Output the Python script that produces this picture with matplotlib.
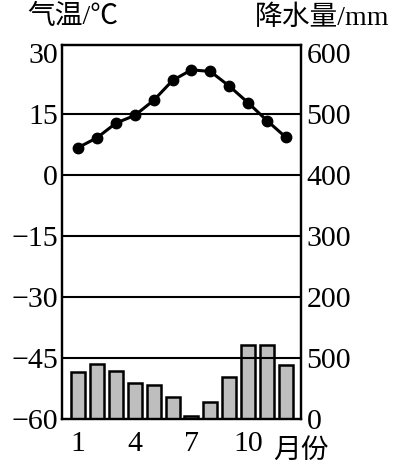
import matplotlib
matplotlib.use("Agg")
import matplotlib.pyplot as plt

plt.rcParams['font.family'] = ['Liberation Serif', 'Noto Sans CJK SC', 'DejaVu Sans']

months = list(range(1, 13))
temperature = [6.7, 9.1, 12.7, 14.6, 18.3, 23.2, 25.8, 25.4, 21.8, 17.7, 13.3, 9.2]
precipitation = [76, 90, 78, 58, 56, 36, 5, 27, 68, 121, 121, 88]
temp_ticks = [-60, -45, -30, -15, 0, 15, 30]
temp_labels = ['−60', '−45', '−30', '−15', '0', '15', '30']
prec_ticks = [0, 100, 200, 300, 400, 500, 600]
prec_labels = ['0', '500', '200', '300', '400', '500', '600']
month_ticks = [1, 4, 7, 10]
month_labels = ['1', '4', '7', '10']

fig = plt.figure(figsize=(3.93, 4.69), dpi=100)
ax = fig.add_axes([0.158, 0.107, 0.608, 0.797])
t_lo, t_hi = -60, 31.9
ax.set_ylim(t_lo, t_hi)
ax.set_xlim(0.15, 12.8)

for t in temp_ticks[1:-1]:
    ax.axhline(t, color='black', lw=1.5, zorder=0)

ax2 = ax.twinx()
ax2.set_ylim((t_lo + 60) * 600 / 90, (t_hi + 60) * 600 / 90)
ax2.bar(months, precipitation, width=0.74, color='#bebebe', edgecolor='black', linewidth=1.8, zorder=2)

ax.plot(months, temperature, color='black', lw=2.2, marker='o', markersize=7.5, zorder=5)
ax.set_zorder(ax2.get_zorder() + 1)
ax.patch.set_visible(False)

for a in (ax, ax2):
    for s in a.spines.values():
        s.set_linewidth(1.6)
    a.tick_params(length=0)

ax.set_yticks(temp_ticks)
ax.set_yticklabels(temp_labels, fontsize=21.5)
ax.tick_params(axis='y', pad=3)
ax2.set_yticks(prec_ticks)
ax2.set_yticklabels(prec_labels, fontsize=21.5)
ax2.tick_params(axis='y', pad=4)
ax.set_xticks(month_ticks)
ax.set_xticklabels(month_labels, fontsize=21.5)
ax.tick_params(axis='x', pad=9)

fig.text(0.07, 0.962, '气温/℃', fontsize=20, ha='left', va='center')
fig.text(0.99, 0.962, '降水量/mm', fontsize=20, ha='right', va='center')
fig.text(0.695, 0.040, '月份', fontsize=20, ha='left', va='center', family=['Noto Sans CJK SC'])

fig.savefig('out.png', dpi=100)
